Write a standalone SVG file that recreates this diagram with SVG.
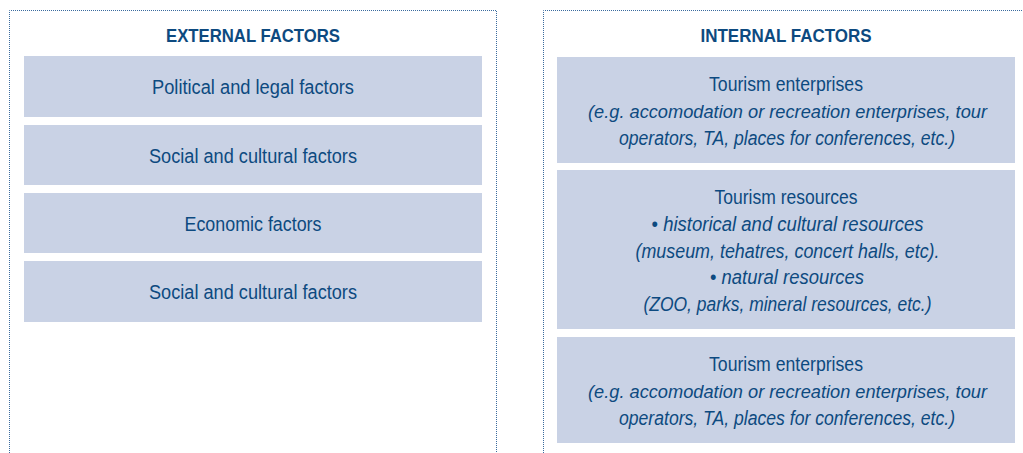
<svg xmlns="http://www.w3.org/2000/svg" width="1023" height="453" viewBox="0 0 1023 453">
<style>
.frame{fill:none;stroke:#3a6b9e;stroke-width:1;stroke-dasharray:1 1}
.box{fill:#c9d2e5}
text{font-family:"Liberation Sans",Arial,sans-serif;fill:#0d4a80;text-anchor:middle}
.title{font-size:19px;font-weight:bold}
.t{font-size:20px}
.s{font-size:19px}
.i{font-style:italic}
</style>
<rect width="1023" height="453" fill="#ffffff"/>
<g id="external">
<path class="frame" d="M9.5,453 V10.5 H496.5 V453"/>
<text class="title" x="253" y="42" textLength="174" lengthAdjust="spacingAndGlyphs">EXTERNAL FACTORS</text>
<g id="ext-political"><rect class="box" x="24" y="56" width="458" height="61"/><text class="t" x="253" y="94" textLength="202" lengthAdjust="spacingAndGlyphs">Political and legal factors</text></g>
<g id="ext-social1"><rect class="box" x="24" y="125" width="458" height="60"/><text class="t" x="253" y="162.5" textLength="208" lengthAdjust="spacingAndGlyphs">Social and cultural factors</text></g>
<g id="ext-economic"><rect class="box" x="24" y="193" width="458" height="60"/><text class="t" x="253" y="230.5" textLength="137" lengthAdjust="spacingAndGlyphs">Economic factors</text></g>
<g id="ext-social2"><rect class="box" x="24" y="261" width="458" height="61"/><text class="t" x="253" y="299" textLength="208" lengthAdjust="spacingAndGlyphs">Social and cultural factors</text></g>
</g>
<g id="internal">
<path class="frame" d="M543.5,453 V10.5 H1023"/>
<text class="title" x="786" y="42" textLength="171" lengthAdjust="spacingAndGlyphs">INTERNAL FACTORS</text>
<g id="int-enterprises1"><rect class="box" x="557" y="57" width="458" height="106"/>
<text class="t" x="786" y="91" textLength="154" lengthAdjust="spacingAndGlyphs">Tourism enterprises</text>
<text class="s i" x="787.5" y="118" textLength="399" lengthAdjust="spacingAndGlyphs">(e.g. accomodation or recreation enterprises, tour</text>
<text class="t i" x="787" y="145" textLength="336" lengthAdjust="spacingAndGlyphs">operators, TA, places for conferences, etc.)</text>
</g>
<g id="int-resources"><rect class="box" x="557" y="170" width="458" height="159"/>
<text class="t" x="786" y="204" textLength="143" lengthAdjust="spacingAndGlyphs">Tourism resources</text>
<text class="t" x="787.5" y="231" textLength="272" lengthAdjust="spacingAndGlyphs">• <tspan class="i">historical and cultural resources</tspan></text>
<text class="t i" x="787.5" y="258" textLength="304" lengthAdjust="spacingAndGlyphs">(museum, tehatres, concert halls, etc).</text>
<text class="t" x="787" y="284" textLength="154" lengthAdjust="spacingAndGlyphs">• <tspan class="i">natural resources</tspan></text>
<text class="t i" x="787.5" y="311" textLength="288" lengthAdjust="spacingAndGlyphs">(ZOO, parks, mineral resources, etc.)</text>
</g>
<g id="int-enterprises2"><rect class="box" x="557" y="337" width="458" height="106"/>
<text class="t" x="786" y="371" textLength="154" lengthAdjust="spacingAndGlyphs">Tourism enterprises</text>
<text class="s i" x="787.5" y="398" textLength="399" lengthAdjust="spacingAndGlyphs">(e.g. accomodation or recreation enterprises, tour</text>
<text class="t i" x="787" y="425" textLength="336" lengthAdjust="spacingAndGlyphs">operators, TA, places for conferences, etc.)</text>
</g>
</g>
<g id="connectors"/>
</svg>
